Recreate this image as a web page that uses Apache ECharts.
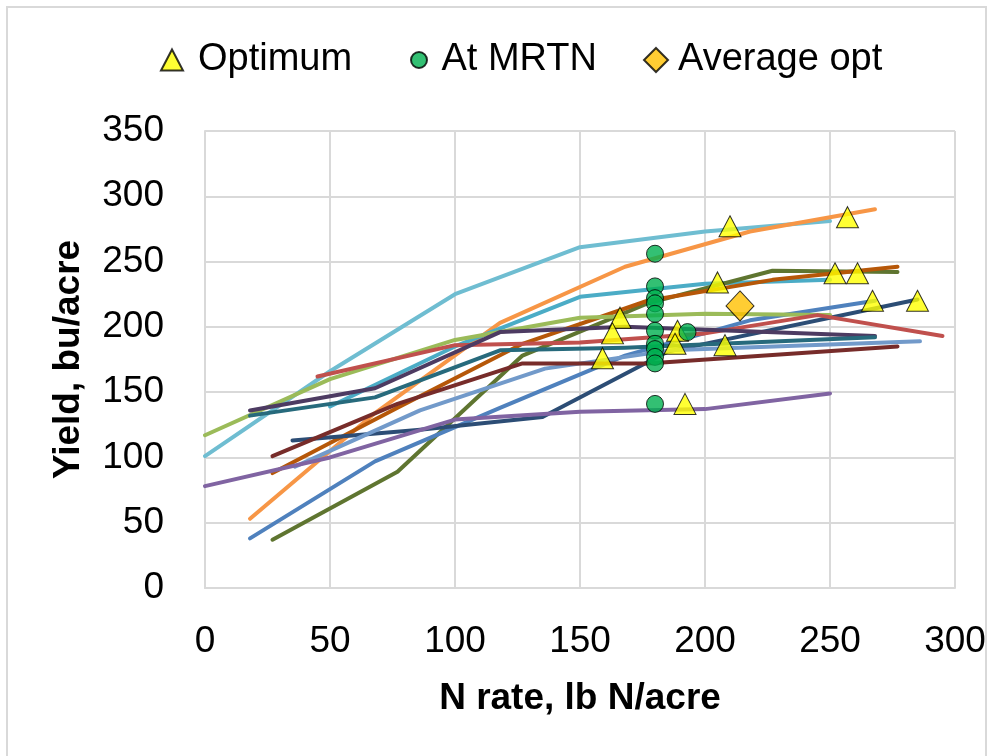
<!DOCTYPE html>
<html>
<head>
<meta charset="utf-8">
<script src="https://cdn.jsdelivr.net/npm/echarts@6/dist/echarts.min.js"></script>
<style>
html,body{margin:0;padding:0;background:#fff;}
#chart{width:1004px;height:756px;}
</style>
</head>
<body>
<div id="chart"></div>
<script>
// ---- data ----
var xTicks = [0, 50, 100, 150, 200, 250, 300];
var yTicks = [0, 50, 100, 150, 200, 250, 300, 350];

var siteLightAqua  = [[0,101],[50,166],[100,225],[150,261],[200,273],[250,281]];
var siteOrange     = [[18,53],[68,134],[118,203],[168,246],[218,273],[268,290]];
var siteAqua       = [[50,139],[100,185],[150,223],[200,233],[250,236]];
var siteOlive      = [[27,37],[77,89],[127,178],[177,218],[227,243],[277,242]];
var siteDarkOrange = [[27,88],[77,138],[127,187],[177,220],[227,236],[277,246]];
var siteBlue       = [[18,38],[68,97],[118,138],[168,178],[218,205],[268,220]];
var siteNavy       = [[35,113],[85,121],[135,131],[185,181],[285,221]];
var siteLightGreen = [[0,117],[50,160],[100,190],[150,207],[200,210],[250,209]];
var siteRed        = [[45,162],[100,186],[150,188],[200,195],[245,209],[295,193]];
var siteDarkPurple = [[18,136],[68,153],[118,196],[168,200],[268,193]];
var siteTeal       = [[18,132],[68,146],[118,182],[168,184],[268,192]];
var siteLightBlue  = [[36,93],[86,136],[136,168],[186,182],[286,189]];
var siteDarkRed    = [[27,101],[77,141],[127,172],[177,172],[277,185]];
var sitePurple     = [[0,78],[50,100],[100,129],[150,135],[200,137],[250,149]];

var optimum = [[210,277],[257,284],[252,241],[261,241],[205,234],[267,220],[285,220],
               [166,207],[163,195],[189,197],[188,187],[208,186],[159,176],[192,141]];
var atMRTN  = [[180,256],[180,231],[180,222],[180,218],[180,210],[180,197],[180,187],
               [180,183],[180,177],[180,172],[180,141],[193,196]];
var averageOpt = [[214,216]];

var siteLines = [
  {name:'Site 1',  data: siteLightAqua,  color:'#6FBDD1'},
  {name:'Site 2',  data: siteOrange,     color:'#F79646'},
  {name:'Site 3',  data: siteAqua,       color:'#4BACC6'},
  {name:'Site 4',  data: siteOlive,      color:'#5F7530'},
  {name:'Site 5',  data: siteDarkOrange, color:'#B65708'},
  {name:'Site 6',  data: siteBlue,       color:'#4F81BD'},
  {name:'Site 7',  data: siteNavy,       color:'#2C4D75'},
  {name:'Site 8',  data: siteLightGreen, color:'#9BBB59'},
  {name:'Site 9',  data: siteRed,        color:'#C0504D'},
  {name:'Site 10', data: siteDarkPurple, color:'#4D3B62'},
  {name:'Site 11', data: siteTeal,       color:'#276A7C'},
  {name:'Site 12', data: siteLightBlue,  color:'#729ACA'},
  {name:'Site 13', data: siteDarkRed,    color:'#772C2A'},
  {name:'Site 14', data: sitePurple,     color:'#8064A2'}
];

var FONT = 'Liberation Sans';
var series = siteLines.map(function(s){
  return {
    name: s.name, type:'line', data: s.data, showSymbol:false, symbol:'none',
    lineStyle:{color:s.color, width:4, cap:'round', join:'round'},
    itemStyle:{color:s.color}, z:2, silent:true
  };
});
series.push({
  name:'Optimum', type:'scatter', data: optimum, symbol:'triangle', symbolSize:[22,21],
  itemStyle:{color:'#FFFF00', borderColor:'#000', borderWidth:1}, z:5
});
series.push({
  name:'At MRTN', type:'scatter', data: atMRTN, symbol:'circle', symbolSize:17,
  itemStyle:{color:'#00B050', borderColor:'#000', borderWidth:1}, z:6
});
series.push({
  name:'Average opt', type:'scatter', data: averageOpt, symbol:'diamond', symbolSize:[28,30],
  itemStyle:{color:'#FFC000', borderColor:'#000', borderWidth:1}, z:7
});

var legText = function(pad){ return {fontSize:38, fontFamily:FONT, color:'#000', padding:[0,0,0,pad]}; };

var chart = echarts.init(document.getElementById('chart'), null, {renderer:'canvas'});
chart.setOption({
  backgroundColor:'#fff',
  animation:false,
  graphic:[{type:'rect', shape:{x:7, y:7, width:979, height:770}, style:{fill:'none', stroke:'#d9d9d9', lineWidth:2}, silent:true}],
  grid:{left:205, right:49, top:131, bottom:168, containLabel:false},
  legend:[
    {data:['Optimum'], left:155, top:36, itemWidth:22, itemHeight:21, textStyle:legText(10)},
    {data:['At MRTN'], left:405, top:36, itemWidth:17, itemHeight:16, textStyle:legText(9)},
    {data:['Average opt'], left:638, top:36, itemWidth:24, itemHeight:24, textStyle:legText(5)}
  ],
  xAxis:{
    type:'value', min:xTicks[0], max:xTicks[xTicks.length-1], interval:50,
    name:'N rate, lb N/acre', nameLocation:'middle', nameGap:92,
    nameTextStyle:{fontSize:37, fontWeight:'bold', fontFamily:FONT, color:'#000'},
    axisLine:{show:true, lineStyle:{color:'#d9d9d9', width:2}},
    axisTick:{show:false},
    axisLabel:{fontSize:37, fontFamily:FONT, color:'#000', margin:35},
    splitLine:{show:true, lineStyle:{color:'#d9d9d9', width:2}}
  },
  yAxis:{
    type:'value', min:yTicks[0], max:yTicks[yTicks.length-1], interval:50,
    name:'Yield, bu/acre', nameLocation:'middle', nameGap:118, nameRotate:90,
    nameTextStyle:{fontSize:37, fontWeight:'bold', fontFamily:FONT, color:'#000'},
    axisLine:{show:true, lineStyle:{color:'#d9d9d9', width:2}},
    axisTick:{show:false},
    axisLabel:{fontSize:37, fontFamily:FONT, color:'#000', margin:41},
    splitLine:{show:true, lineStyle:{color:'#d9d9d9', width:2}}
  },
  series: series
});
</script>
</body>
</html>
